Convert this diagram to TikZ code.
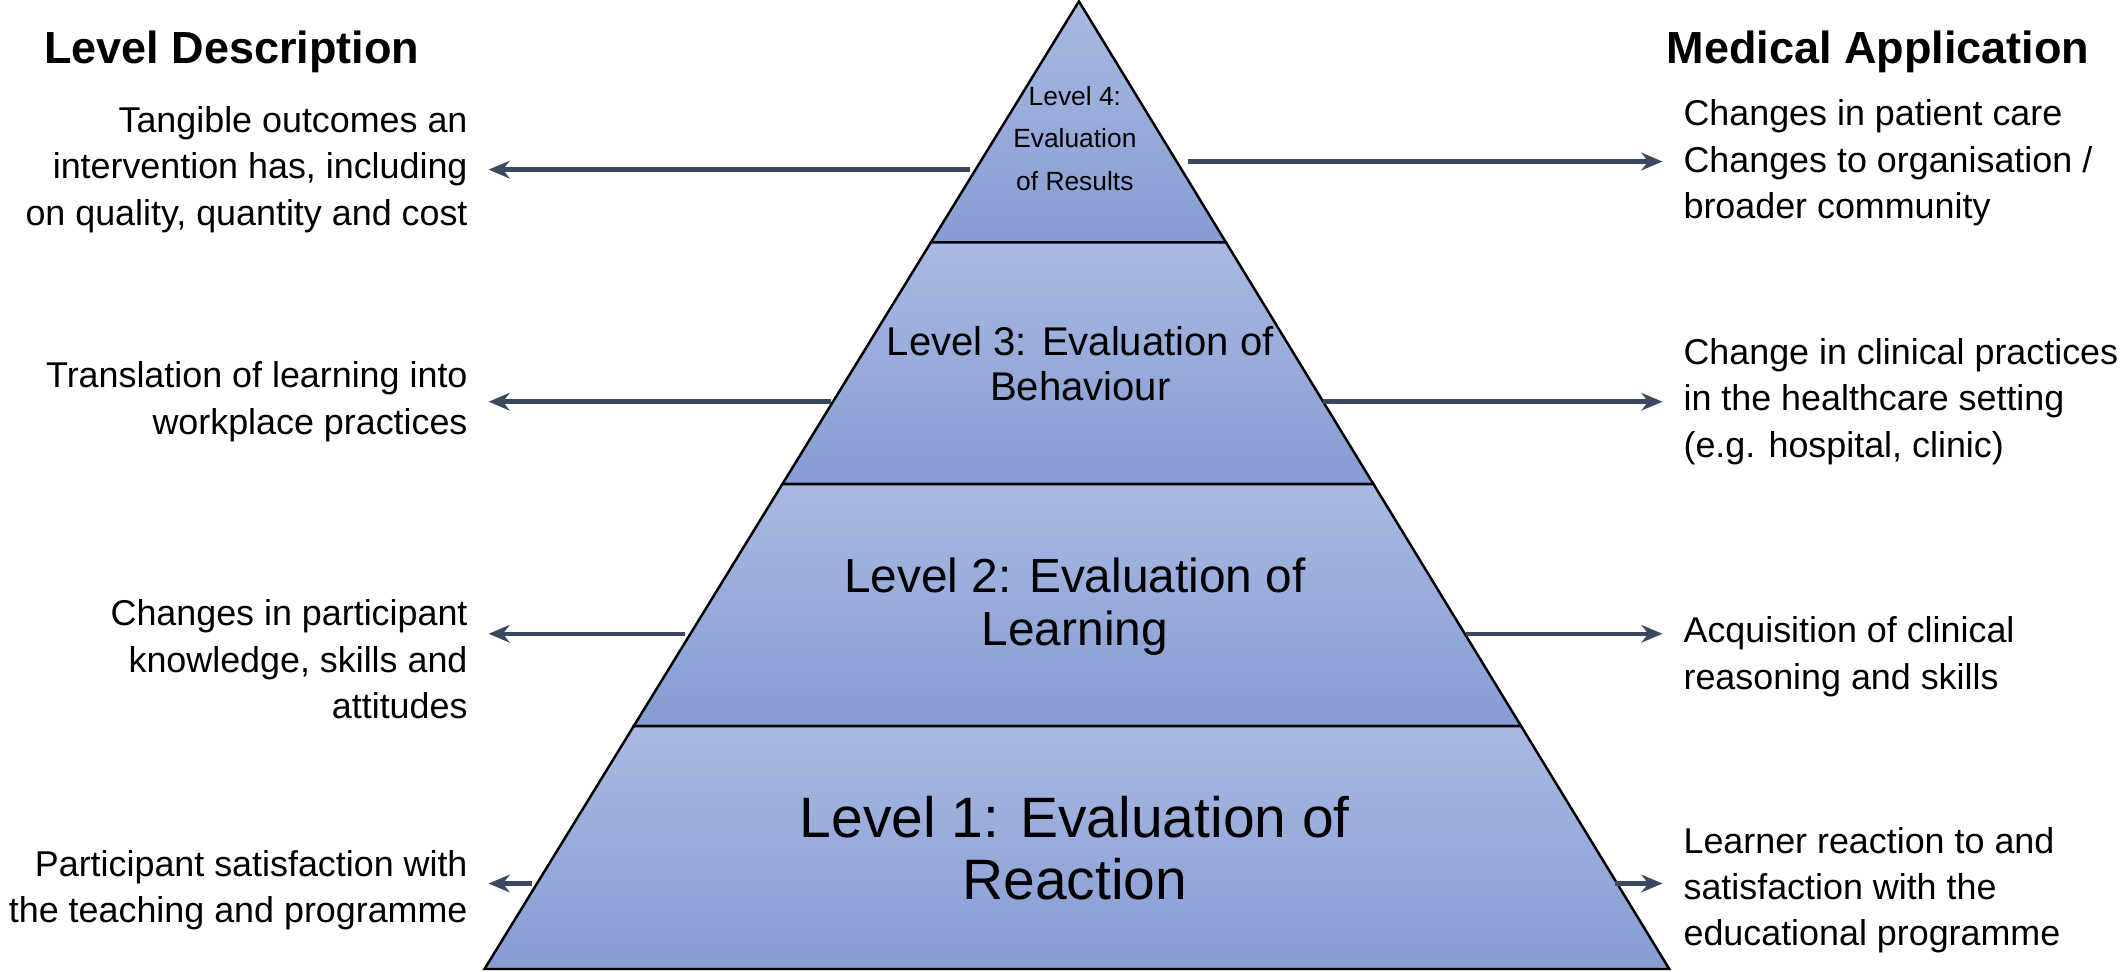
\documentclass[tikz,border=0pt]{standalone}
\usepackage{fontspec}
\setmainfont{Liberation Sans}
\usetikzlibrary{calc,arrows.meta}
\definecolor{bandtop}{HTML}{A9B9E1}
\definecolor{bandbot}{HTML}{869CD3}
\definecolor{arrowc}{HTML}{3A4860}
\begin{document}
\begin{tikzpicture}[x=0.01357cm,y=-0.01357cm,
  band/.style={draw=black,line width=0.7pt,top color=bandtop,bottom color=bandbot},
  side/.style={align=right,font=\fontsize{10.2}{13.2}\selectfont,inner sep=0pt},
  appl/.style={align=left,font=\fontsize{10.2}{13.2}\selectfont,inner sep=0pt},
  head/.style={font=\bfseries\fontsize{12.8}{15}\selectfont,inner sep=0pt},
  link/.style={-{Stealth[length=6pt,width=5pt]},arrowc,line width=1.3pt}]
\useasboundingbox (0,0) rectangle (1568,715.5);

%% Pyramid
  \coordinate (apex) at (795,1);
  \coordinate (bl) at (357,714);
  \coordinate (br) at (1230,714);
  \foreach \t [count=\i] in {0.249,0.499,0.749}
    {\coordinate (l\i) at ($(apex)!\t!(bl)$);
     \coordinate (r\i) at ($(apex)!\t!(br)$);}
  \draw [band] (apex) -- (r1) -- (l1) -- cycle;
  \draw [band] (l1) -- (r1) -- (r2) -- (l2) -- cycle;
  \draw [band] (l2) -- (r2) -- (r3) -- (l3) -- cycle;
  \draw [band] (l3) -- (r3) -- (br) -- (bl) -- cycle;

%% Level titles
  \node [align=center,font=\fontsize{7.5}{12}\selectfont] (lev4) at (792,102) {Level 4:\\Evaluation\\of Results};
  \node [align=center,font=\fontsize{11.4}{13}\selectfont] (lev3) at (796,268) {Level 3: Evaluation of\\Behaviour};
  \node [align=center,font=\fontsize{13.6}{15}\selectfont] (lev2) at (792,447) {Level 2: Evaluation of\\Learning};
  \node [align=center,font=\fontsize{16.2}{17.4}\selectfont] (lev1) at (792,625) {Level 1: Evaluation of\\Reaction};

%% Headers
  \node [head,anchor=west] (hdesc) at (32,38) {Level Description};
  \node [head,anchor=east] (happ) at (1540,38) {Medical Application};

%% Descriptions
  \node [side,anchor=east] (d4) at (345,125) {Tangible outcomes an\\intervention has, including\\on quality, quantity and cost};
  \node [side,anchor=east] (d3) at (345,296) {Translation of learning into\\workplace practices};
  \node [side,anchor=east] (d2) at (345,486) {Changes in participant\\knowledge, skills and\\attitudes};
  \node [side,anchor=east] (d1) at (345,656) {Participant satisfaction with\\the teaching and programme};

%% Applications
  \node [appl,anchor=west] (a4) at (1240,120) {Changes in patient care\\Changes to organisation /\\broader community};
  \node [appl,anchor=west] (a3) at (1240,296) {Change in clinical practices\\in the healthcare setting\\(e.g. hospital, clinic)};
  \node [appl,anchor=west] (a2) at (1240,484) {Acquisition of clinical\\reasoning and skills};
  \node [appl,anchor=west] (a1) at (1240,656) {Learner reaction to and\\satisfaction with the\\educational programme};

%% Arrows
  \coordinate (s4l) at (715,125); \coordinate (s4r) at (875,119);
  \coordinate (s3l) at (612,296); \coordinate (s3r) at (975,296);
  \coordinate (s2l) at (505,467); \coordinate (s2r) at (1080,467);
  \coordinate (s1l) at (392,651); \coordinate (s1r) at (1190,651);
  \foreach \i in {1,...,4}
    {\draw [link] (s\i l) -- ($(d\i.east |- s\i l)+(15,0)$);
     \draw [link] (s\i r) -- ($(a\i.west |- s\i r)+(-15,0)$);}
\end{tikzpicture}
\end{document}
